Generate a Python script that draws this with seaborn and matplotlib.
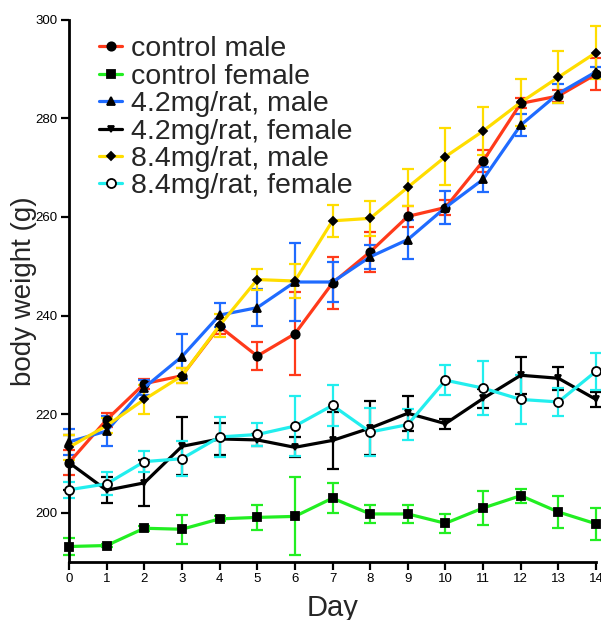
import matplotlib
matplotlib.use("Agg")
import matplotlib.pyplot as plt
import seaborn as sns
import numpy as np

days = list(range(15))

ctrl_male = [210.2, 218.9, 226.2, 227.8, 237.8, 231.8, 236.3, 246.6, 252.9, 260.1, 261.9, 271.3, 283.0, 284.5, 288.9]
ctrl_male_err = [2.5, 1.4, 1.0, 1.5, 1.5, 2.8, 8.4, 5.3, 4.0, 2.1, 1.6, 2.2, 1.0, 1.2, 3.2]

ctrl_female = [193.2, 193.4, 196.9, 196.7, 198.8, 199.1, 199.3, 203.0, 199.8, 199.8, 197.9, 201.0, 203.5, 200.2, 197.8]
ctrl_female_err = [1.7, 0.3, 0.5, 2.9, 0.5, 2.5, 7.9, 3.1, 1.8, 1.8, 1.9, 3.5, 1.4, 3.3, 3.2]

low_male = [214.4, 216.6, 225.4, 231.7, 240.1, 241.6, 246.8, 246.8, 251.9, 255.4, 261.9, 267.6, 278.6, 285.0, 289.4]
low_male_err = [2.7, 3.0, 1.5, 4.5, 2.5, 3.7, 8.0, 4.0, 2.4, 4.0, 3.3, 2.6, 2.2, 2.0, 1.0]

low_female = [210.2, 204.6, 206.1, 213.5, 215.0, 214.8, 213.3, 214.7, 217.2, 220.2, 218.1, 223.2, 227.9, 227.3, 223.0]
low_female_err = [5.5, 2.6, 4.7, 5.9, 3.3, 1.3, 2.0, 5.7, 5.5, 3.5, 1.0, 2.0, 3.8, 2.3, 1.5]

high_male = [213.3, 217.7, 223.0, 227.8, 238.0, 247.3, 247.0, 259.2, 259.7, 266.0, 272.2, 277.4, 283.2, 288.3, 293.3]
high_male_err = [2.5, 1.5, 2.9, 1.5, 2.3, 2.1, 3.5, 3.3, 3.6, 3.8, 5.8, 4.8, 4.7, 5.3, 5.4]

high_female = [204.7, 205.9, 210.4, 211.0, 215.4, 215.9, 217.6, 221.8, 216.4, 217.9, 226.9, 225.3, 223.0, 222.5, 228.7]
high_female_err = [1.6, 2.3, 2.1, 3.6, 4.0, 2.3, 6.0, 4.2, 4.8, 3.2, 3.0, 5.5, 5.0, 2.9, 3.7]

labels = ["control male", "control female", "4.2mg/rat, male",
          "4.2mg/rat, female", "8.4mg/rat, male", "8.4mg/rat, female"]
y_ticks = [200, 220, 240, 260, 280, 300]

series = [
    (ctrl_male, ctrl_male_err, labels[0], "#FF3A1A", "o", 6, "black"),
    (ctrl_female, ctrl_female_err, labels[1], "#22EE22", "s", 6, "black"),
    (low_male, low_male_err, labels[2], "#1F6BFF", "^", 5.5, "black"),
    (low_female, low_female_err, labels[3], "black", "v", 5, "black"),
    (high_male, high_male_err, labels[4], "#FFDD00", "D", 4, "black"),
    (high_female, high_female_err, labels[5], "#22EEEE", "o", 6.5, "white"),
]

sns.set_style("ticks")
plt.rcParams['font.family'] = ['Liberation Sans', 'DejaVu Sans']

fig = plt.figure(figsize=(6.01, 6.20), dpi=100)
ax = fig.add_axes([69/601, 1 - 562.3/620, (596 - 69)/601, (562.3 - 19.5)/620])

for vals, err, lab, col, mk, ms, mfc in series:
    ax.errorbar(days, vals, yerr=err, fmt='none', ecolor=col, elinewidth=1.6,
                capsize=4, capthick=1.6, clip_on=False, zorder=2)
    sns.lineplot(x=days, y=vals, ax=ax, color=col, linewidth=2.3, marker=mk,
                 markersize=ms, markerfacecolor=mfc, markeredgecolor="black",
                 markeredgewidth=1.3, label=lab, clip_on=False, zorder=3)

ax.set_xlim(0, 14)
ax.set_ylim(190, 300)
ax.set_xticks(days)
ax.set_yticks(y_ticks)
ax.tick_params(axis='both', labelsize=9.5, width=1.6, length=6, pad=2, colors='black')
for side in ['left', 'bottom']:
    ax.spines[side].set_linewidth(2)
    ax.spines[side].set_color('black')
sns.despine(ax=ax)

ax.set_xlabel("Day", fontsize=21, labelpad=6)
ax.set_ylabel("body weight (g)", fontsize=20, labelpad=-1)

leg = ax.legend(loc='upper left', bbox_to_anchor=(0.036, 0.99), frameon=False,
                fontsize=20.5, handlelength=0.8, handletextpad=0.3,
                labelspacing=0.05, borderaxespad=0)

fig.savefig("out.png", dpi=100)
